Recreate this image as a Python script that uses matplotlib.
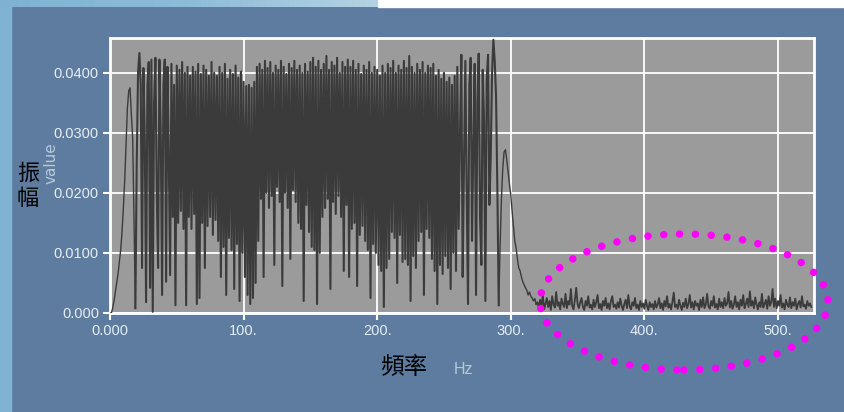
import numpy as np
import matplotlib.pyplot as plt
from matplotlib.colors import LinearSegmentedColormap
from matplotlib.patches import Ellipse, Rectangle

# spectrum amplitude, 1 Hz bins starting at 0 Hz, in units of 1e-4
amp_e4 = [
    0, 0, 8, 20, 35, 50, 65, 85, 105, 135,
    175, 220, 280, 340, 370, 375, 330, 290, 150, 8,
    250, 400, 433, 380, 75, 408, 300, 18, 380, 418,
    42, 422, 2, 350, 425, 200, 75, 422, 300, 30,
    380, 422, 52, 410, 260, 63, 415, 160, 380, 13,
    412, 150, 405, 170, 418, 140, 400, 13, 410, 160,
    395, 140, 410, 165, 402, 15, 415, 25, 398, 150,
    412, 75, 405, 145, 395, 160, 418, 130, 400, 155,
    395, 120, 410, 60, 400, 110, 415, 30, 390, 125,
    405, 105, 398, 40, 412, 115, 392, 20, 402, 100,
    385, 60, 378, 30, 380, 15, 375, 25, 385, 50,
    410, 120, 415, 190, 405, 60, 420, 200, 408, 175,
    418, 195, 400, 80, 412, 210, 405, 185, 420, 45,
    410, 200, 398, 175, 415, 90, 408, 205, 420, 185,
    405, 150, 412, 140, 400, 20, 415, 180, 402, 135,
    418, 110, 425, 105, 410, 15, 420, 100, 405, 160,
    415, 175, 428, 190, 405, 40, 418, 185, 412, 165,
    425, 195, 400, 160, 418, 70, 410, 180, 422, 60,
    410, 140, 420, 150, 405, 45, 415, 130, 398, 145,
    412, 120, 405, 105, 418, 25, 400, 115, 410, 100,
    405, 80, 395, 70, 412, 10, 400, 75, 415, 90,
    408, 135, 420, 125, 400, 50, 412, 130, 405, 85,
    420, 90, 408, 80, 428, 20, 410, 95, 400, 75,
    415, 120, 405, 135, 418, 30, 400, 140, 412, 125,
    408, 90, 415, 70, 395, 15, 405, 80, 390, 65,
    400, 95, 385, 75, 392, 40, 380, 100, 395, 70,
    410, 140, 300, 430, 60, 250, 420, 200, 15, 380,
    425, 120, 280, 415, 30, 350, 432, 160, 80, 405,
    320, 20, 390, 430, 180, 260, 400, 455, 420, 360,
    200, 13, 110, 190, 240, 268, 272, 255, 235, 215,
    197, 170, 145, 120, 108, 90, 75, 70, 60, 52,
    47, 42, 38, 30, 35, 28, 25, 20, 24, 15,
    18, 8, 22, 12, 30, 6, 15, 25, 10, 20,
    5, 28, 14, 9, 35, 12, 18, 6, 24, 15,
    10, 32, 8, 20, 14, 40, 12, 6, 22, 42,
    15, 8, 18, 25, 10, 5, 20, 12, 28, 9,
    14, 6, 22, 10, 18, 30, 8, 15, 5, 20,
    12, 25, 8, 16, 6, 20, 28, 10, 14, 7,
    18, 9, 24, 12, 5, 15, 22, 8, 30, 11,
    6, 18, 12, 25, 8, 14, 5, 20, 10, 16,
    7, 22, 12, 5, 18, 10, 15, 6, 20, 9,
    14, 25, 8, 16, 5, 20, 11, 28, 9, 15,
    6, 18, 34, 10, 14, 7, 22, 12, 5, 17,
    10, 24, 8, 15, 30, 9, 18, 6, 20, 12,
    16, 5, 22, 10, 26, 8, 14, 32, 11, 7,
    20, 12, 28, 9, 15, 6, 24, 10, 18, 8,
    25, 12, 16, 35, 9, 20, 7, 14, 28, 10,
    18, 6, 22, 12, 30, 8, 15, 24, 10, 36,
    12, 20, 8, 26, 14, 6, 18, 10, 32, 9,
    15, 22, 7, 28, 12, 18, 40, 10, 24, 8,
    20, 12, 30, 9, 16, 6, 22, 14, 10, 26,
    8, 18, 12, 24, 6, 15, 20, 9, 28, 11,
    14, 7, 20, 12, 16, 10,
]
amp = np.array(amp_e4) * 1e-4
freq = np.arange(len(amp))

y_ticks = [0.0, 0.01, 0.02, 0.03, 0.04]
y_labels = ["0.000", "0.0100", "0.0200", "0.0300", "0.0400"]
x_ticks = [0, 100, 200, 300, 400, 500]
x_labels = ["0.000", "100.", "200.", "300.", "400.", "500."]

W, H = 845, 412
tick_font = "Liberation Sans"
cjk_font = ["Noto Sans CJK TC", "DejaVu Sans"]

fig = plt.figure(figsize=(W / 100, H / 100), dpi=100, facecolor="#5d7ca0")

# slide frame: light strip on the left, title band on top
fig.add_artist(Rectangle((0, 0), 11 / W, 1, transform=fig.transFigure,
                         color="#80b3d3", zorder=0))
band = np.linspace(0, 1, 64).reshape(1, -1)
band_ax = fig.add_axes([0, 1 - 7 / H, 378 / W, 7 / H])
band_ax.imshow(band, aspect="auto",
               cmap=LinearSegmentedColormap.from_list("band", ["#7fb2d2", "#8dbcd8", "#b4d2e3"]))
band_ax.axis("off")
fig.add_artist(Rectangle((378 / W, 1 - 7 / H), 1 - 378 / W, 7 / H,
                         transform=fig.transFigure, color="white", zorder=0))

ax = fig.add_axes([110 / W, 1 - 313 / H, 704 / W, 275 / H])
ax.set_facecolor("#9b9b9b")
# dense band drawn a little heavier than the ramp and the decay
ax.plot(freq[:20], amp[:20], color="#3b3b3b", lw=1.0, zorder=3)
ax.plot(freq[19:292], amp[19:292], color="#3b3b3b", lw=1.5, zorder=3)
ax.plot(freq[291:320], amp[291:320], color="#3b3b3b", lw=1.0, zorder=3)
ax.plot(freq[319:], amp[319:], color="#3b3b3b", lw=1.3, zorder=3)
ax.set_xlim(0, 527)
ax.set_ylim(0, 0.0458)
ax.set_xticks(x_ticks, x_labels)
ax.set_yticks(y_ticks, y_labels)
ax.grid(color="white", lw=1.3, zorder=1)
ax.set_axisbelow(True)
for s in ax.spines.values():
    s.set_color("white")
    s.set_linewidth(2)
ax.tick_params(colors="white", labelcolor="#e6edf4", length=5, width=1.5,
               labelsize=10.5, pad=3)
for lab in ax.get_xticklabels() + ax.get_yticklabels():
    lab.set_family(tick_font)

fig.text(51 / W, 1 - 163 / H, "value", rotation=90, color="#b9c9d9",
         fontsize=11, ha="center", va="center")
fig.text(28 / W, 1 - 186 / H, "振\n幅", family=cjk_font, fontsize=16,
         color="black", ha="center", va="center", linespacing=1.15)
fig.text(404 / W, 1 - 368 / H, "頻率", family=cjk_font, fontsize=17,
         color="black", ha="center", va="center")
fig.text(463 / W, 1 - 370 / H, "Hz", color="#b9c9d9", fontsize=11.5,
         ha="center", va="center", family=tick_font)

# dotted magenta ring around the high-frequency noise
ring = Ellipse((684 / W, 1 - 302 / H), 288 / W, 136 / H, transform=fig.transFigure,
               fill=False, edgecolor="#ff00ff", lw=5.4, capstyle="round",
               linestyle=(0, (0.01, 2.1)), zorder=5)
fig.add_artist(ring)

fig.savefig("out.png", dpi=100, facecolor=fig.get_facecolor())
